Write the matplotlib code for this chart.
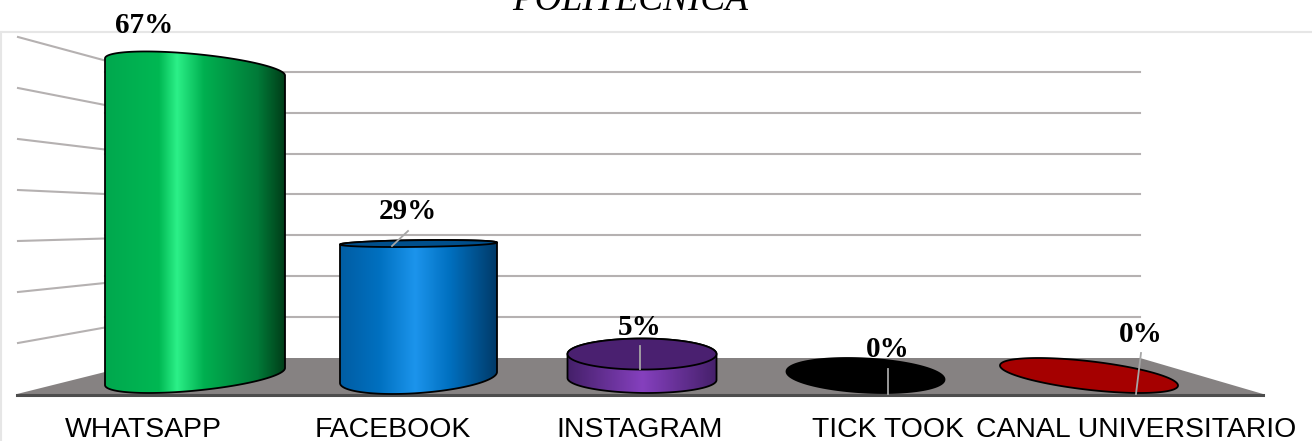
import numpy as np
import matplotlib
matplotlib.use('Agg')
import matplotlib.pyplot as plt
from matplotlib.colors import LinearSegmentedColormap
from matplotlib.patches import PathPatch, Polygon
from matplotlib.path import Path

# data
categories = ['WHATSAPP', 'FACEBOOK', 'INSTAGRAM', 'TICK TOOK', 'CANAL UNIVERSITARIO']
values = [67, 29, 5.4, 0, 0]
grid_ticks = [10, 20, 30, 40, 50, 60, 70]
title_last_line = 'POLITECNICA'

# scale of the picture: one category step and one percent, in pixels
W, H = 1312, 441
PX_CAT = 223.5
PX_PCT = 4.62
X0_PX = 195
Y0_PX = 377


def xd(px):
    return (px - X0_PX) / PX_CAT


def yd(py):
    return (Y0_PX - py) / PX_PCT


# layout of each cylinder, in pixels
half_width = [90, 78.5, 74.5, 79, 89]
base_y = [376.5, 377.5, 379, 375.5, 375.5]
base_h = [16.5, 16.5, 14, 17.5, 17.5]
base_k = [-8.5, -5.5, 1, 4, 10]
top_h = [15.5, 3.5, 15.5, 17.5, 17.5]
top_k = [8.5, -1, 0, 4, 10]
top_colors = [None, '#004f8c', '#4a2070', '#000000', '#a50000']
side_colors = [
    [(0, '#00a84e'), (0.3, '#00b853'), (0.4, '#2cf088'), (0.55, '#00b050'), (0.85, '#007a38'), (1, '#003d18')],
    [(0, '#005da3'), (0.25, '#0070c0'), (0.48, '#1c94ec'), (0.7, '#0070c0'), (1, '#003a68')],
    [(0, '#45206a'), (0.5, '#8540be'), (1, '#45206a')],
    None,
    None,
]

# text positions
cat_x = [143.5, 392.5, 640, 888.5, 1136]
label_x = [144, 408, 640, 888, 1140.5]
label_y = [33, 219, 335, 357, 342]
leaders = [None, (392, 246, 408, 231), (640, 369, 640, 346), (888, 394, 888, 369), (1136, 394, 1141, 353)]

plt.rcParams['font.family'] = 'Liberation Sans'

fig = plt.figure(figsize=(W / 100, H / 100), dpi=100, facecolor='white')
ax = fig.add_axes([0, 0, 1, 1])
ax.axis('off')

# frame round the chart
ax.plot([xd(0), xd(W)], [yd(32), yd(32)], color='#e6e6e6', lw=1.5, zorder=1)
ax.plot([xd(1), xd(1)], [yd(32), yd(H)], color='#e6e6e6', lw=1.5, zorder=1)

# walls: the same ticks on the back wall and on the left wall
for t in grid_ticks:
    back = 358 - 4.09 * t
    front = 394 - 5.1 * t
    side = 372 - 4.45 * t
    ax.plot([xd(105), xd(1140)], [yd(back), yd(back)], color='#b5b1b1', lw=1.5, zorder=2)
    ax.plot([xd(18), xd(105)], [yd(front), yd(side)], color='#b5b1b1', lw=1.5, zorder=2)

# floor
floor = [(xd(17), yd(394)), (xd(105), yd(372)), (xd(105), yd(358)), (xd(1140), yd(358)), (xd(1263), yd(394))]
ax.add_patch(Polygon(floor, closed=True, facecolor='#868282', edgecolor='none', zorder=3))
ax.plot([xd(17), xd(1263)], [yd(395), yd(395)], color='#4d4d4d', lw=2.2, zorder=3)


def ellipse(cx, cy, hw, h, k, t):
    # cy, h and k in pixels, image y grows downwards
    x = cx + hw * np.cos(t)
    y = cy + k * np.cos(t) + np.sqrt(h ** 2 - k ** 2) * np.sin(t)
    return xd(x), yd(y)


for i, v in enumerate(values):
    cx = X0_PX + i * PX_CAT
    hw = half_width[i]
    top_y = base_y[i] - v * PX_PCT

    if side_colors[i] is not None:
        # side of the cylinder: upper arc of the top, lower arc of the base
        tx, ty = ellipse(cx, top_y, hw, top_h[i], top_k[i], np.linspace(np.pi, 2 * np.pi, 80))
        bx, by = ellipse(cx, base_y[i], hw, base_h[i], base_k[i], np.linspace(0, np.pi, 80))
        verts = np.column_stack([np.r_[tx, bx, tx[0]], np.r_[ty, by, ty[0]]])
        codes = [Path.MOVETO] + [Path.LINETO] * (len(verts) - 2) + [Path.CLOSEPOLY]
        outline = PathPatch(Path(verts, codes), facecolor='none', edgecolor='black', lw=1.3, zorder=6)
        ax.add_patch(outline)
        cmap = LinearSegmentedColormap.from_list('side%d' % i, side_colors[i])
        img = ax.imshow(np.linspace(0, 1, 256).reshape(1, -1), cmap=cmap, aspect='auto',
                        extent=(xd(cx - hw), xd(cx + hw), yd(base_y[i] + base_h[i]), yd(top_y - top_h[i])),
                        zorder=5)
        img.set_clip_path(outline)

    if top_colors[i] is not None:
        tx, ty = ellipse(cx, top_y, hw, top_h[i], top_k[i], np.linspace(0, 2 * np.pi, 160))
        ax.add_patch(Polygon(np.column_stack([tx, ty]), closed=True, facecolor=top_colors[i],
                             edgecolor='black', lw=1.3, zorder=7))

# leader lines
for seg in leaders:
    if seg is not None:
        ax.plot([xd(seg[0]), xd(seg[2])], [yd(seg[1]), yd(seg[3])], color='#a6a6a6', lw=1.3, zorder=8)

# value labels
for v, lx, ly in zip(values, label_x, label_y):
    ax.text(xd(lx), yd(ly), '%.0f%%' % v, family='Liberation Serif', weight='bold', fontsize=21,
            ha='center', va='baseline', color='black', zorder=9)

# category labels
for name, lx in zip(categories, cat_x):
    ax.text(xd(lx), yd(437), name, fontsize=20.4, ha='center', va='baseline', color='black', zorder=9)

# only the last line of the title is left in the crop
ax.text(xd(630.5), yd(10), title_last_line, family='Liberation Serif', style='italic', fontsize=26.8,
        ha='center', va='baseline', color='black', zorder=9)

ax.set_xlim(xd(0), xd(W))
ax.set_ylim(yd(H), yd(0))

fig.savefig('out.png', dpi=100, facecolor='white')
